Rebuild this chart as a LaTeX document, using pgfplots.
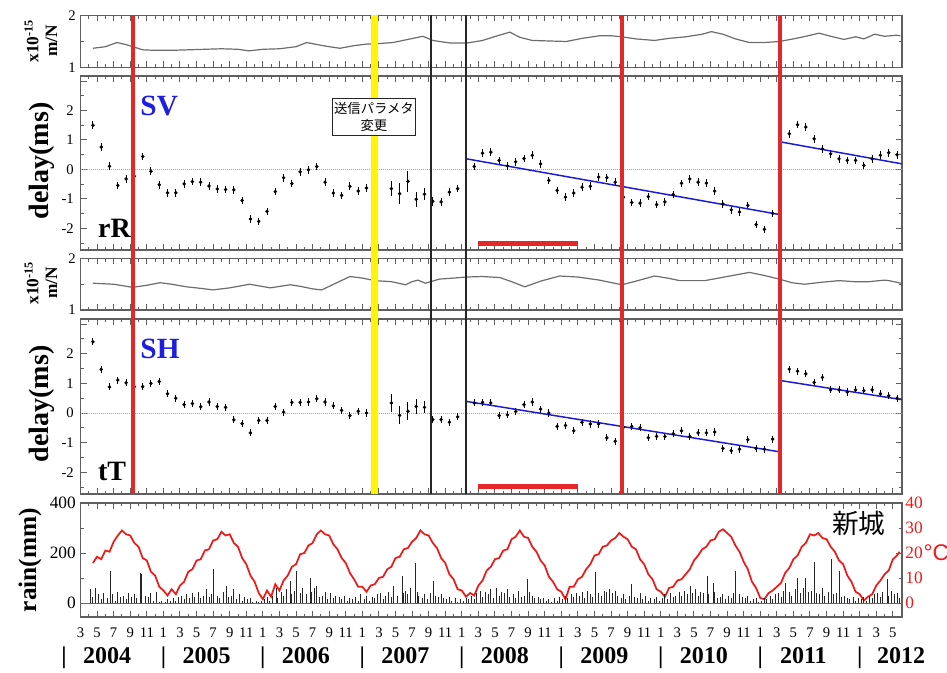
\documentclass[border=0pt]{standalone}
\usepackage{pgfplots}
\pgfplotsset{compat=1.18}
\usepackage{fontspec}
\setmainfont{Liberation Serif}
\setsansfont{Liberation Sans}
\newfontfamily\cjk{Noto Sans CJK JP}
\definecolor{axgray}{RGB}{95,95,95}
\definecolor{fitblue}{RGB}{25,25,215}
\definecolor{vred}{RGB}{228,40,40}
\definecolor{vyellow}{RGB}{255,245,0}
\definecolor{tred}{RGB}{238,25,25}
\definecolor{lblue}{RGB}{30,30,225}
\tikzset{yr/.style={anchor=base, inner sep=0pt, font=\bfseries\fontsize{18}{18}\selectfont, yshift=-34.5pt},
  tk/.style={axgray, line width=0.75pt}}
\newcommand\xticksall[6]{%
  \pgfplotsinvokeforeach{2,4,...,100}{\draw[tk] (axis cs:##1,#1) -- (axis cs:##1,#2) (axis cs:##1,#4) -- (axis cs:##1,#5);}%
  \pgfplotsinvokeforeach{3,5,...,101}{\draw[tk] (axis cs:##1,#1) -- (axis cs:##1,#3) (axis cs:##1,#4) -- (axis cs:##1,#6);}%
}
\newcommand\yticksall[2]{%
  \pgfplotsinvokeforeach{#1}{\draw[tk] (axis cs:2,##1) -- (axis cs:2.7238,##1) (axis cs:101.1,##1) -- (axis cs:100.3762,##1);}%
  \pgfplotsinvokeforeach{#2}{\draw[tk] (axis cs:2,##1) -- (axis cs:2.4021,##1) (axis cs:101.1,##1) -- (axis cs:100.6979,##1);}%
}
\pgfplotsset{
  base/.style={
    scale only axis, width=616.125pt,
    xmin=2, xmax=101.1,
    anchor=north west,
    axis line style={axgray, line width=0.8pt},
    tick style={axgray, line width=0.75pt},
    xtick pos=both, ytick pos=both,
    xtick align=inside, ytick align=inside,
    major tick length=4.5pt,
    minor tick length=2.5pt,
    xtick={2,4,...,100},
    minor xtick={3,5,...,101},
    xticklabels={},
    tick label style={font=\fontsize{11}{12}\selectfont},
    /pgf/number format/assume math mode=true,
  },
  mn/.style={base, height=39pt, ymin=1, ymax=2, ytick={1,2}, minor ytick={1.5}, yticklabels={1,2}},
  dl/.style={base, height=131pt, ymin=-2.73, ymax=3.17, ytick={-2,-1,0,1,2,3}, minor ytick={-2.5,-1.5,...,2.5},
     yticklabels={-2,-1,0,1,2,{}}, yticklabel style={xshift=-1.5pt}},
  pts/.style={black, only marks, mark=*, mark size=1.1pt,
     error bars/.cd, y dir=both, y explicit, error mark=none, error bar style={black, line width=0.7pt}},
  mnline/.style={gray!85!black, line width=0.9pt},
}
\begin{document}
\begin{tikzpicture}
\useasboundingbox (0,0) rectangle (710.25pt,-504.75pt);

% ---------- panel 1: SV compliance ----------
\begin{axis}[mn, at={(60.375pt,-11.625pt)}]
\xticksall{1}{1.1154}{1.0641}{2}{1.8846}{1.9359}
\yticksall{1,2}{1.5}
\addplot[mnline] coordinates {(3.5,1.37) (5,1.40) (6.4,1.48) (7.5,1.44) (8.3,1.40) (9.5,1.34) (11,1.33) (13,1.33) (15,1.34) (17,1.35) (19,1.36) (21,1.35) (22.3,1.32) (24,1.35) (26,1.36) (28,1.40) (29.3,1.48) (30.9,1.43) (32,1.40) (33.3,1.37) (35,1.42) (36.5,1.45) (38,1.46) (39.7,1.48) (41.5,1.54) (43.3,1.60) (44.5,1.52) (46.6,1.47) (48.6,1.47) (50.5,1.52) (52.5,1.62) (53.8,1.68) (55,1.58) (56.5,1.52) (58.5,1.51) (60.6,1.50) (62.5,1.56) (64.6,1.61) (66,1.61) (67.3,1.59) (69,1.55) (71.25,1.52) (73,1.56) (75,1.59) (77,1.64) (78.1,1.69) (79.5,1.64) (81,1.55) (82.7,1.48) (84.5,1.48) (86.3,1.50) (88,1.55) (89.5,1.60) (91.1,1.66) (92.5,1.60) (94.1,1.54) (95.5,1.59) (96.5,1.55) (97.8,1.64) (99,1.60) (100.4,1.62) (100.9,1.61)};
\coordinate (TOP) at (axis cs:2,2);
\end{axis}

% ---------- panel 2: SV delay ----------
\begin{axis}[dl, at={(60.375pt,-57pt)}, height=130.5pt]
\xticksall{-2.73}{-2.5266}{-2.617}{3.17}{2.9666}{3.057}
\yticksall{-2,-1,0,1,2,3}{-2.5,-1.5,-0.5,0.5,1.5,2.5}
\draw[gray!70, densely dotted, line width=0.5pt] (axis cs:2,0) -- (axis cs:101.1,0);
\addplot[pts] table[x=x, y=y, y error=e] {
x y e
3.5 1.50 0.13
4.5 0.76 0.13
5.5 0.11 0.13
6.5 -0.54 0.13
7.5 -0.32 0.13
8.5 -0.23 0.13
9.5 0.44 0.13
10.5 -0.06 0.13
11.5 -0.52 0.13
12.5 -0.79 0.13
13.5 -0.79 0.13
14.5 -0.49 0.13
15.5 -0.41 0.13
16.5 -0.43 0.13
17.5 -0.56 0.13
18.5 -0.66 0.13
19.5 -0.68 0.13
20.5 -0.69 0.13
21.5 -1.05 0.13
22.5 -1.68 0.13
23.5 -1.76 0.13
24.5 -1.42 0.13
25.5 -0.75 0.13
26.5 -0.28 0.13
27.5 -0.48 0.13
28.5 -0.08 0.13
29.5 -0.01 0.13
30.5 0.10 0.13
31.5 -0.43 0.13
32.5 -0.80 0.13
33.5 -0.88 0.13
34.5 -0.57 0.13
35.5 -0.73 0.13
36.5 -0.63 0.13
39.5 -0.65 0.25
40.5 -0.82 0.35
41.5 -0.40 0.35
42.5 -1.01 0.25
43.5 -0.84 0.20
44.5 -1.08 0.15
45.5 -1.10 0.13
46.5 -0.77 0.13
47.5 -0.65 0.13
49.5 0.10 0.13
50.5 0.55 0.13
51.5 0.59 0.13
52.5 0.31 0.13
53.5 0.12 0.13
54.5 0.26 0.13
55.5 0.37 0.13
56.5 0.48 0.13
57.5 0.19 0.13
58.5 -0.37 0.13
59.5 -0.71 0.13
60.5 -0.94 0.13
61.5 -0.80 0.13
62.5 -0.60 0.13
63.5 -0.57 0.13
64.5 -0.26 0.13
65.5 -0.28 0.13
66.5 -0.43 0.13
67.5 -0.94 0.13
68.5 -1.12 0.13
69.5 -1.14 0.13
70.5 -0.92 0.13
71.5 -1.19 0.13
72.5 -1.10 0.13
73.5 -0.85 0.13
74.5 -0.47 0.13
75.5 -0.32 0.13
76.5 -0.43 0.13
77.5 -0.46 0.13
78.5 -0.73 0.13
79.5 -1.17 0.13
80.5 -1.37 0.13
81.5 -1.44 0.13
82.5 -1.22 0.13
83.5 -1.87 0.13
84.5 -2.03 0.13
85.5 -1.49 0.13
86.38 0.00 0.13
87.5 1.21 0.13
88.5 1.52 0.13
89.5 1.44 0.13
90.5 1.04 0.13
91.5 0.70 0.13
92.5 0.53 0.13
93.5 0.36 0.13
94.5 0.31 0.13
95.5 0.31 0.13
96.5 0.14 0.13
97.5 0.36 0.13
98.5 0.48 0.13
99.5 0.57 0.13
100.5 0.50 0.13
};
\addplot[fitblue, line width=1.1pt] coordinates {(48.6,0.36) (86.38,-1.53)};
\addplot[fitblue, line width=1.1pt] coordinates {(86.55,0.93) (101.1,0.19)};
\addplot[vred, line width=4pt] coordinates {(50,-2.5) (62,-2.5)};
\node[anchor=west, inner sep=0pt, text=lblue, font=\bfseries\fontsize{22}{22}\selectfont] at (axis cs:9.2,2.15) {SV};
\node[anchor=west, inner sep=0pt, font=\bfseries\fontsize{21}{21}\selectfont] at (axis cs:4.1,-2.0) {rR};
\coordinate (BOXC) at (axis cs:37.4,1.78);
\end{axis}

% ---------- panel 3: SH compliance ----------
\begin{axis}[mn, at={(60.375pt,-193.875pt)}, height=38.625pt]
\xticksall{1}{1.1165}{1.0647}{2}{1.8835}{1.9353}
\yticksall{1,2}{1.5}
\addplot[mnline] coordinates {(3.5,1.52) (6,1.50) (8.3,1.44) (10,1.48) (11.6,1.53) (13,1.50) (14.8,1.45) (16.5,1.42) (18,1.39) (20,1.43) (22.4,1.50) (24.9,1.43) (27.3,1.49) (28.5,1.46) (30,1.41) (31.1,1.39) (32.8,1.52) (34.5,1.65) (36,1.62) (37.5,1.57) (39.5,1.55) (41.2,1.49) (42,1.55) (42.7,1.58) (43.6,1.52) (45.3,1.60) (47,1.62) (48.5,1.64) (50.5,1.65) (52.6,1.63) (54,1.55) (55.6,1.45) (57.5,1.56) (59.8,1.66) (62,1.64) (64.6,1.58) (67.3,1.49) (69,1.56) (71.25,1.66) (72.8,1.62) (74.3,1.57) (77.3,1.57) (79,1.62) (81,1.68) (82.7,1.73) (84.5,1.67) (86.3,1.60) (87.8,1.53) (89.3,1.50) (91.5,1.54) (93.5,1.57) (95.3,1.55) (97.1,1.55) (99,1.58) (99.5,1.57) (101,1.52)};
\end{axis}

% ---------- panel 4: SH delay ----------
\begin{axis}[dl, at={(60.375pt,-239.25pt)}, height=131.25pt]
\xticksall{-2.73}{-2.5277}{-2.6176}{3.17}{2.9677}{3.0576}
\yticksall{-2,-1,0,1,2,3}{-2.5,-1.5,-0.5,0.5,1.5,2.5}
\draw[gray!70, densely dotted, line width=0.5pt] (axis cs:2,0) -- (axis cs:101.1,0);
\addplot[pts] table[x=x, y=y, y error=e] {
x y e
3.5 2.40 0.12
4.5 1.47 0.12
5.5 0.88 0.12
6.5 1.11 0.12
7.5 1.02 0.12
8.5 0.89 0.12
9.5 0.89 0.12
10.5 1.00 0.12
11.5 1.06 0.12
12.5 0.65 0.12
13.5 0.50 0.12
14.5 0.28 0.12
15.5 0.32 0.12
16.5 0.21 0.12
17.5 0.37 0.12
18.5 0.22 0.12
19.5 0.19 0.12
20.5 -0.23 0.12
21.5 -0.36 0.12
22.5 -0.67 0.12
23.5 -0.25 0.12
24.5 -0.25 0.12
25.5 0.22 0.12
26.5 0.03 0.12
27.5 0.36 0.12
28.5 0.36 0.12
29.5 0.37 0.12
30.5 0.48 0.12
31.5 0.37 0.12
32.5 0.24 0.12
33.5 0.09 0.12
34.5 -0.09 0.12
35.5 0.06 0.12
36.5 0.00 0.12
39.5 0.34 0.30
40.5 -0.08 0.30
41.5 0.06 0.30
42.5 0.22 0.25
43.5 0.19 0.20
44.5 -0.22 0.12
45.5 -0.22 0.12
46.5 -0.31 0.12
47.5 -0.13 0.12
49.5 0.34 0.12
50.5 0.36 0.12
51.5 0.34 0.12
52.5 -0.09 0.12
53.5 -0.06 0.12
54.5 0.05 0.12
55.5 0.28 0.12
56.5 0.37 0.12
57.5 0.13 0.12
58.5 0.00 0.12
59.5 -0.45 0.12
60.5 -0.42 0.12
61.5 -0.60 0.12
62.5 -0.31 0.12
63.5 -0.37 0.12
64.5 -0.37 0.12
65.5 -0.84 0.12
66.5 -0.95 0.12
67.5 -0.48 0.12
68.5 -0.45 0.12
69.5 -0.50 0.12
70.5 -0.83 0.12
71.5 -0.79 0.12
72.5 -0.79 0.12
73.5 -0.70 0.12
74.5 -0.60 0.12
75.5 -0.79 0.12
76.5 -0.67 0.12
77.5 -0.67 0.12
78.5 -0.64 0.12
79.5 -1.19 0.12
80.5 -1.27 0.12
81.5 -1.22 0.12
82.5 -0.90 0.12
83.5 -1.19 0.12
84.5 -1.22 0.12
85.5 -0.88 0.12
86.38 0.37 0.12
87.5 1.48 0.12
88.5 1.41 0.12
89.5 1.32 0.12
90.5 1.03 0.12
91.5 1.20 0.12
92.5 0.78 0.12
93.5 0.78 0.12
94.5 0.71 0.12
95.5 0.78 0.12
96.5 0.75 0.12
97.5 0.78 0.12
98.5 0.65 0.12
99.5 0.58 0.12
100.5 0.50 0.12
};
\addplot[fitblue, line width=1.1pt] coordinates {(48.6,0.39) (86.38,-1.31)};
\addplot[fitblue, line width=1.1pt] coordinates {(86.55,1.09) (101.1,0.45)};
\addplot[vred, line width=4pt] coordinates {(50,-2.48) (62,-2.48)};
\node[anchor=west, inner sep=0pt, text=lblue, font=\bfseries\fontsize{22}{22}\selectfont] at (axis cs:9.2,2.16) {SH};
\node[anchor=west, inner sep=0pt, font=\bfseries\fontsize{21}{21}\selectfont] at (axis cs:4.1,-1.97) {tT};
\coordinate (V1) at (axis cs:8.33,-2.73);
\coordinate (V2) at (axis cs:37.44,-2.73);
\coordinate (V3) at (axis cs:44.27,-2.73);
\coordinate (V4) at (axis cs:48.49,-2.73);
\coordinate (V5) at (axis cs:67.33,-2.73);
\coordinate (V6) at (axis cs:86.38,-2.73);
\end{axis}

% ---------- panel 5: temperature (right axis) ----------
\begin{axis}[scale only axis, width=616.125pt, height=85.5pt, at={(60.375pt,-377.25pt)}, anchor=north west,
  xmin=2, xmax=101.1, ymin=-5.6, ymax=40,
  axis x line=none, axis y line*=right, y axis line style={draw=none},
  ytick={0,10,20,30,40}, yticklabels={0,10,20,30,40}, major tick length=0pt, minor tick length=0pt,
  yticklabel style={text=tred, font=\fontsize{13}{14}\selectfont, xshift=-1pt}, clip=false]
\addplot[tred, line width=1.3pt] coordinates {
(3.5,16) (4,18.5) (4.5,17.5) (5,21) (5.5,20.5) (6,24.5) (6.5,27) (7,29) (7.5,27.5) (8,27) (8.5,24) (9,22.5) (9.5,18) (10,17) (10.5,12.5) (11,11) (11.5,6.5)
(12,5) (12.5,3) (13,5.5) (13.5,3.5) (14,7) (14.5,8.5) (15,12.5) (15.5,13.5) (16,17) (16.5,17.5) (17,21) (17.5,21.5) (18,25) (18.5,25.5) (19,28.5) (19.5,27) (20,27.5) (20.5,24) (21,22.5) (21.5,18) (22,15.5) (22.5,11) (23,8.5) (23.5,4)
(24,1.5) (24.5,5) (25,2.5) (25.5,7.5) (26,5) (26.5,9) (27,11) (27.5,14.5) (28,15.5) (28.5,19.5) (29,20) (29.5,23) (30,24) (30.5,27.5) (31,29) (31.5,27.5) (32,27) (32.5,23.5) (33,21.5) (33.5,18) (34,16) (34.5,12) (35,9.5) (35.5,6.5)
(36,6.5) (36.5,4.5) (37,7) (37.5,7.5) (38,10) (38.5,10.5) (39,13.5) (39.5,14.5) (40,18) (40.5,18.5) (41,21.5) (41.5,22) (42,24.5) (42.5,26) (43,29) (43.5,27.5) (44,27) (44.5,24) (45,22) (45.5,18) (46,16) (46.5,11.5) (47,9.5) (47.5,5.5)
(48,5) (48.5,2.5) (49,4) (49.5,3) (50,7) (50.5,9) (51,13) (51.5,14.5) (52,17.5) (52.5,18) (53,21) (53.5,21.5) (54,25.5) (54.5,26.5) (55,29) (55.5,26.5) (56,26) (56.5,22.5) (57,20.5) (57.5,17) (58,15) (58.5,10.5) (59,8.5) (59.5,5.5)
(60,4.5) (60.5,1.5) (61,6.5) (61.5,6.5) (62,9.5) (62.5,10.5) (63,13.5) (63.5,15.5) (64,19) (64.5,19.5) (65,22.5) (65.5,23) (66,25) (66.5,26) (67,28) (67.5,26.5) (68,25.5) (68.5,22.5) (69,21.5) (69.5,17.5) (70,15.5) (70.5,11.5) (71,9.5) (71.5,5.5)
(72,4.5) (72.5,2.5) (73,6) (73.5,6.5) (74,9) (74.5,9.5) (75,11.5) (75.5,13.5) (76,17) (76.5,19) (77,21.5) (77.5,22.5) (78,25) (78.5,25.5) (79,28.5) (79.5,29.5) (80,28) (80.5,26.5) (81,23) (81.5,20.5) (82,16.5) (82.5,13.5) (83,8.5) (83.5,6)
(84,2) (84.5,1.5) (85,4) (85.5,5) (86,6.5) (86.5,8) (87,12) (87.5,14) (88,17.5) (88.5,19) (89,22.5) (89.5,24) (90,27.5) (90.5,27) (91,28) (91.5,26) (92,25.5) (92.5,22.5) (93,20.5) (93.5,17) (94,15.5) (94.5,11) (95,8.5) (95.5,4.5)
(96,3.5) (96.5,1) (97,2.5) (97.5,3.5) (98,7) (98.5,9) (99,11.5) (99.5,13) (100,17.5) (100.5,19) (100.8,20.5)};
\node[anchor=west, inner sep=0pt, text=tred, font=\sffamily\fontsize{17}{17}\selectfont] at (axis cs:101.1,20) [xshift=16pt] {°C};
\end{axis}

% ---------- panel 5: rain (left axis) ----------
\begin{axis}[base, at={(60.375pt,-377.25pt)}, height=85.5pt, ymin=-56, ymax=400,
  ytick={0,200,400}, minor ytick={100,300}, yticklabels={0,200,400}, yticklabel pos=left,
  yticklabel style={font=\fontsize{13}{14}\selectfont},
  xticklabels={3,5,7,9,11,1,3,5,7,9,11,1,3,5,7,9,11,1,3,5,7,9,11,1,3,5,7,9,11,1,3,5,7,9,11,1,3,5,7,9,11,1,3,5,7,9,11,1,3,5},
  xticklabel style={anchor=base, yshift=-15pt},
  clip=false]
\xticksall{-56}{-32}{-42.67}{400}{376}{386.67}
\yticksall{0,200,400}{100,300}
\draw[gray!80!black, line width=0.5pt] (axis cs:2,0) -- (axis cs:101.1,0);
\addplot[ycomb, black!85, line width=0.7pt] coordinates {
(3.2,55) (3.5,25) (3.8,60) (4.2,35) (4.5,15) (4.8,40) (5.2,20) (5.6,130) (5.8,35) (6.2,10) (6.5,45) (6.8,25) (7.2,30) (7.5,15) (7.8,40) (8.2,25) (8.5,35) (8.8,20) (9.2,120) (9.4,115) (9.8,30) (10.2,25) (10.5,40) (10.8,10) (11.2,45) (11.5,5) (11.8,10)
(12.2,5) (12.5,15) (12.8,8) (13.2,20) (13.5,10) (13.8,25) (14.2,30) (14.5,15) (14.8,35) (15.2,20) (15.5,40) (15.8,25) (16.2,45) (16.5,20) (16.8,30) (17.2,55) (17.5,25) (17.8,35) (18.0,135) (18.5,30) (18.8,20) (19.2,45) (19.6,70) (19.8,25) (20.2,30) (20.5,55) (20.8,15) (21.2,35) (21.5,10) (21.8,25) (22.2,15) (22.5,20) (22.8,5) (23.2,10) (23.5,5) (23.8,8)
(24.2,15) (24.5,25) (24.8,10) (25.2,30) (25.7,60) (25.8,20) (26.2,45) (26.5,30) (26.8,55) (27.3,90) (27.5,35) (27.8,50) (28.1,130) (28.5,40) (28.8,60) (29.2,35) (29.7,100) (29.9,45) (30.2,60) (30.5,70) (30.8,25) (31.2,30) (31.5,45) (31.8,15) (32.2,40) (32.5,20) (32.8,30) (33.2,25) (33.5,15) (33.8,30) (34.2,10) (34.5,20) (34.8,15) (35.2,25) (35.5,10) (35.8,35)
(36.2,15) (36.5,30) (36.8,10) (37.2,25) (37.5,20) (37.8,35) (38.2,40) (38.5,15) (38.8,30) (39.2,45) (39.5,25) (39.8,70) (40.2,30) (40.8,110) (40.9,40) (41.2,50) (41.5,35) (41.8,60) (42.4,160) (42.6,45) (42.8,30) (43.2,20) (43.5,35) (43.8,15) (44.2,40) (44.6,90) (44.8,30) (45.2,25) (45.5,35) (45.8,20) (46.2,15) (46.5,25) (46.8,10) (47.2,20) (47.5,5) (47.8,15)
(48.2,10) (48.5,20) (48.8,15) (49.2,30) (49.5,15) (49.8,40) (50.2,50) (50.5,25) (50.8,45) (51.2,35) (51.5,55) (51.8,20) (52.2,60) (52.5,30) (52.8,45) (53.2,40) (53.5,55) (53.8,25) (54.2,35) (54.5,20) (54.8,50) (55.2,25) (55.5,30) (55.9,95) (56.2,45) (56.5,30) (56.8,20) (57.2,25) (57.5,15) (57.8,20) (58.2,10) (58.5,15) (58.8,5) (59.2,20) (59.5,10) (59.8,25)
(60.2,15) (60.5,30) (60.8,20) (61.2,35) (61.5,25) (61.8,40) (62.2,30) (62.5,45) (62.8,20) (63.2,50) (63.5,35) (63.8,25) (64.1,125) (64.5,40) (64.8,30) (65.2,50) (65.5,45) (65.8,55) (66.2,40) (66.5,50) (66.8,30) (67.2,20) (67.5,35) (67.8,15) (68.2,30) (68.5,75) (68.8,25) (69.2,20) (69.5,40) (69.8,15) (70.2,30) (70.5,10) (70.8,20) (71.2,15) (71.5,25) (71.8,10)
(72.2,20) (72.5,35) (72.8,15) (73.2,40) (73.5,25) (73.8,30) (74.2,45) (74.5,30) (74.8,50) (75.2,35) (75.6,70) (75.8,40) (76.2,55) (76.5,30) (76.8,45) (77.2,40) (77.6,110) (77.8,35) (78.3,80) (78.5,45) (78.8,20) (79.2,25) (79.5,35) (79.8,15) (80.2,30) (80.5,20) (80.8,40) (81.0,130) (81.5,35) (81.8,25) (82.2,20) (82.5,30) (82.8,10) (83.2,15) (83.5,20) (83.8,5)
(84.2,10) (84.5,20) (84.8,15) (85.2,30) (85.5,15) (85.8,35) (86.2,40) (86.5,25) (86.8,50) (87.0,80) (87.5,45) (87.8,30) (88.2,55) (88.5,100) (88.8,40) (89.2,60) (89.5,100) (89.8,45) (90.2,50) (90.6,165) (90.8,40) (91.2,35) (91.5,60) (91.8,30) (92.2,45) (92.6,175) (92.8,35) (93.2,40) (93.5,130) (93.8,25) (94.2,30) (94.5,20) (94.8,15) (95.2,25) (95.5,10) (95.8,20)
(96.2,15) (96.5,25) (96.8,10) (97.2,30) (97.5,20) (97.8,35) (98.2,40) (98.5,25) (98.8,45) (99.3,95) (99.5,30) (99.8,50) (100.2,35) (100.5,40) (100.8,20)};
\node[font=\cjk\fontsize{20}{20}\selectfont, inner sep=0pt] at (axis cs:95.9,320) {新城};
\node[yr] at (axis cs:0,-56) {|};   \node[yr] at (axis cs:5.2,-56) {2004};
\node[yr] at (axis cs:12,-56) {|};  \node[yr] at (axis cs:17.2,-56) {2005};
\node[yr] at (axis cs:24,-56) {|};  \node[yr] at (axis cs:29.2,-56) {2006};
\node[yr] at (axis cs:36,-56) {|};  \node[yr] at (axis cs:41.2,-56) {2007};
\node[yr] at (axis cs:48,-56) {|};  \node[yr] at (axis cs:53.2,-56) {2008};
\node[yr] at (axis cs:60,-56) {|};  \node[yr] at (axis cs:65.2,-56) {2009};
\node[yr] at (axis cs:72,-56) {|};  \node[yr] at (axis cs:77.2,-56) {2010};
\node[yr] at (axis cs:84,-56) {|};  \node[yr] at (axis cs:89.2,-56) {2011};
\node[yr] at (axis cs:96,-56) {|};  \node[yr] at (axis cs:101.0,-56) {2012};
\end{axis}

% ---------- vertical event lines ----------
\draw[vred, line width=2.6pt] (V1) -- (V1 |- TOP);
\draw[vyellow, line width=5pt] (V2) -- (V2 |- TOP);
\draw[black!85, line width=1.8pt] (V3) -- (V3 |- TOP);
\draw[black!85, line width=1.8pt] (V4) -- (V4 |- TOP);
\draw[vred, line width=2.6pt] (V5) -- (V5 |- TOP);
\draw[vred, line width=2.6pt] (V6) -- (V6 |- TOP);
\node[draw=black!85, line width=0.8pt, fill=white, align=center, inner xsep=1.5pt, inner ysep=3pt,
  font=\cjk\fontsize{10}{13}\selectfont] at (BOXC) {送信パラメタ\\変更};

% ---------- y labels ----------
\node[rotate=90, align=center, font=\bfseries\fontsize{13}{14}\selectfont] at (30.75pt,-30.75pt) {x10\textsuperscript{-15}\\m/N};
\node[rotate=90, align=center, font=\bfseries\fontsize{13}{14}\selectfont] at (30.75pt,-212.25pt) {x10\textsuperscript{-15}\\m/N};
\node[rotate=90, font=\bfseries\fontsize{21}{21}\selectfont] at (31.5pt,-120.75pt) {delay(ms)};
\node[rotate=90, font=\bfseries\fontsize{21}{21}\selectfont] at (31.5pt,-303pt) {delay(ms)};
\node[rotate=90, font=\bfseries\fontsize{19}{19}\selectfont] at (22.5pt,-420pt) {rain(mm)};
\end{tikzpicture}
\end{document}
